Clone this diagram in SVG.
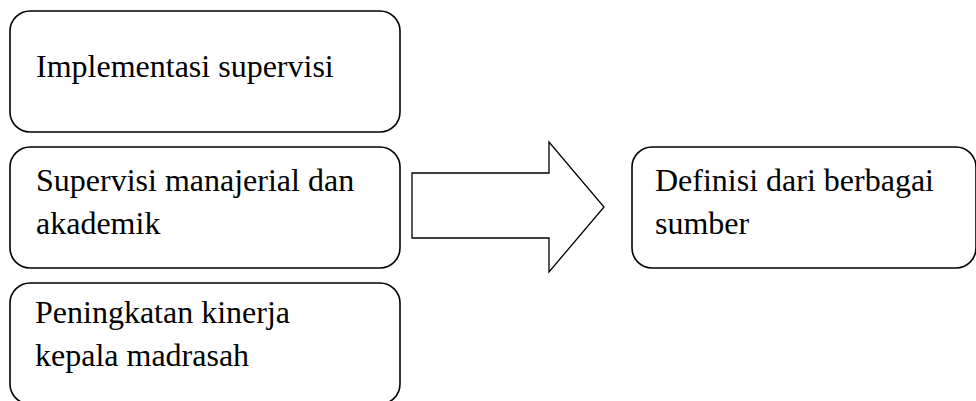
<svg xmlns="http://www.w3.org/2000/svg" width="976" height="401" viewBox="0 0 976 401">
<style>
.box{fill:#fff;stroke:#000;stroke-width:1.6}
.t{font-family:'Liberation Serif','Times New Roman',serif;font-size:32px;fill:#000}
.arr{fill:#fff;stroke:#000;stroke-width:1.3;stroke-linejoin:miter}
</style>
<rect width="976" height="401" fill="#fff"/>
<g id="n1"><rect class="box" x="10" y="11" width="390" height="121" rx="20"/><text class="t" x="36" y="77">Implementasi supervisi</text></g>
<g id="n2"><rect class="box" x="10" y="147" width="390" height="121" rx="20"/><text class="t" x="36" y="191">Supervisi manajerial dan</text><text class="t" x="36" y="234">akademik</text></g>
<g id="n3"><rect class="box" x="10" y="283" width="390" height="121" rx="20"/><text class="t" x="35" y="323">Peningkatan kinerja</text><text class="t" x="35" y="366">kepala madrasah</text></g>
<g id="n4"><rect class="box" x="632" y="147" width="344" height="121" rx="20"/><text class="t" x="655" y="191">Definisi dari berbagai</text><text class="t" x="655" y="234">sumber</text></g>
<g id="connectors"><polygon class="arr" points="412,173 549,173 549,142 604,207 549,272 549,238 412,238"/></g>
</svg>
